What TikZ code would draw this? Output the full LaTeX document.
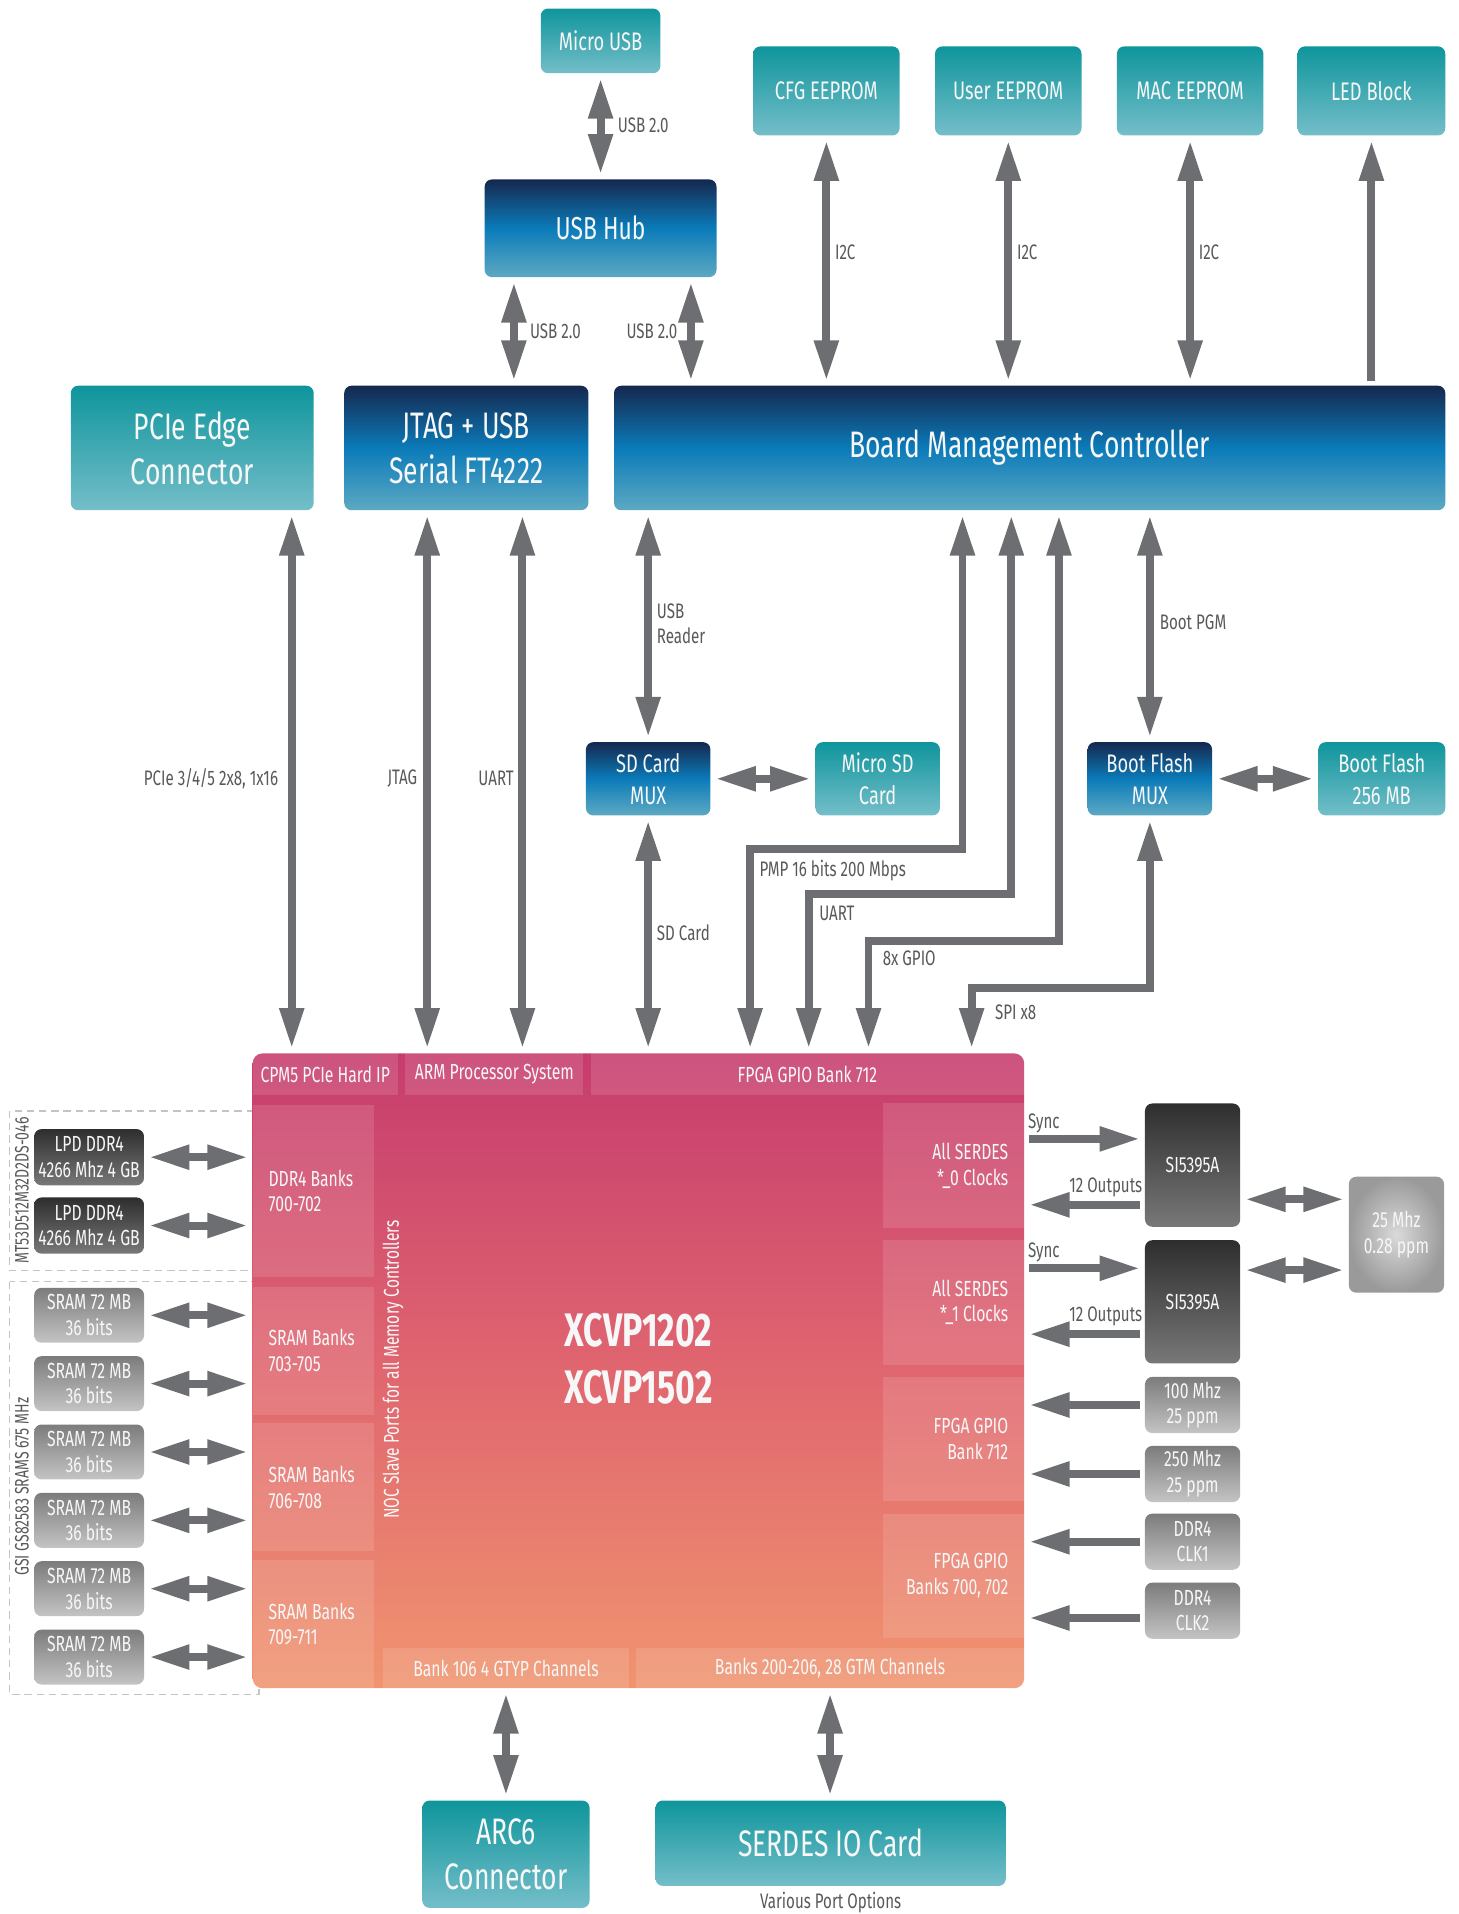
\documentclass[tikz,border=0pt]{standalone}
\usepackage{fontspec}
\setmainfont{Fira Sans}[FakeStretch=0.72]
\usetikzlibrary{arrows.meta}

\definecolor{tealtop}{HTML}{0F959C}
\definecolor{tealbot}{HTML}{74BEC9}
\definecolor{navytop}{HTML}{15284F}
\definecolor{navymid}{HTML}{0B7BB9}
\definecolor{navybot}{HTML}{5DA9C2}
\definecolor{darktop}{HTML}{2E2E2E}
\definecolor{darkbot}{HTML}{787878}
\definecolor{greytop}{HTML}{7C7C7C}
\definecolor{greybot}{HTML}{C4C4C4}
\definecolor{osclight}{HTML}{DADADA}
\definecolor{oscdark}{HTML}{9A9A9A}
\definecolor{fpgatop}{HTML}{C63C6E}
\definecolor{fpgamid}{HTML}{E0666F}
\definecolor{fpgabot}{HTML}{F0946F}
\definecolor{arrowgray}{HTML}{6D6E71}
\definecolor{labgray}{HTML}{58595B}
\definecolor{dashgray}{HTML}{C4C4C4}
\definecolor{boxtext}{HTML}{F7F7F7}

\newcommand{\fbig}{\fontsize{30.2}{37}\selectfont}
\newcommand{\fhub}{\fontsize{26}{30}\selectfont}
\newcommand{\fmid}{\fontsize{20.8}{26}\selectfont}
\newcommand{\fsmall}{\fontsize{17.9}{21}\selectfont}
\newcommand{\flab}{\fontsize{17.2}{21}\selectfont}
\newcommand{\fchip}{\fontsize{38.5}{47}\selectfont\bfseries}

\begin{document}
\begin{tikzpicture}[x=1pt,y=-1pt,>={Triangle[length=33pt,width=19pt]},
    box/.style={rounded corners=6pt,text=boxtext,align=center,inner sep=0pt},
    tealbox/.style={box,top color=tealtop,bottom color=tealbot},
    navybox/.style={box,top color=navytop,bottom color=navybot,middle color=navymid},
    darkbox/.style={box,top color=darktop,bottom color=darkbot},
    greybox/.style={box,top color=greytop,bottom color=greybot},
    blk/.style={fill=white,fill opacity=0.12,text opacity=1,text=boxtext,inner sep=0pt},
    bi/.style={<->,draw=arrowgray,line width=6.5pt,shorten <=4pt,shorten >=4pt},
    uni/.style={->,draw=arrowgray,line width=6.5pt,shorten <=4pt,shorten >=4pt},
    lab/.style={text=labgray,font=\flab,inner sep=0pt}]

    \useasboundingbox (0,0) rectangle (1195,1568);

    % memory groups, behind the chip
    \draw[dashgray,line width=1.2pt,dash pattern=on 6pt off 4pt] (8,910) rectangle (212,1041);
    \draw[dashgray,line width=1.2pt,dash pattern=on 6pt off 4pt] (8,1050) rectangle (212,1388);
    \node[lab,rotate=90,font=\fontsize{16}{18}\selectfont] (ddrname) at (18,975) {MT53D512M32D2DS-046};
    \node[lab,rotate=90,font=\fontsize{16}{18}\selectfont] (sramname) at (18,1218) {GSI GS82583 SRAMS 675 MHz};

    % top row
    \node[tealbox,minimum width=98pt,minimum height=53pt,font=\fmid] (musb) at (492,33.5) {Micro USB};
    \node[navybox,minimum width=190pt,minimum height=80pt,font=\fhub] (hub) at (492,187) {USB Hub};
    \node[tealbox,minimum width=120pt,minimum height=73pt,font=\fmid] (cfg) at (677,74.5) {CFG EEPROM};
    \node[tealbox,minimum width=120pt,minimum height=73pt,font=\fmid] (usr) at (826,74.5) {User EEPROM};
    \node[tealbox,minimum width=120pt,minimum height=73pt,font=\fmid] (mac) at (975,74.5) {MAC EEPROM};
    \node[tealbox,minimum width=121pt,minimum height=73pt,font=\fmid] (led) at (1123.5,74.5) {LED Block};

    \node[tealbox,minimum width=199pt,minimum height=102pt,font=\fbig] (pcie) at (157.5,367) {PCIe Edge\\Connector};
    \node[navybox,minimum width=200pt,minimum height=102pt,font=\fbig] (jtag) at (382,367) {JTAG + USB\\Serial FT4222};
    \node[navybox,minimum width=681pt,minimum height=102pt,font=\fbig] (bmc) at (843.5,367) {Board Management Controller};

    \node[navybox,minimum width=102pt,minimum height=60pt,font=\fmid] (sdmux) at (531,638) {SD Card\\MUX};
    \node[tealbox,minimum width=102pt,minimum height=60pt,font=\fmid] (msd) at (719,638) {Micro SD\\Card};
    \node[navybox,minimum width=102pt,minimum height=60pt,font=\fmid] (bfmux) at (942,638) {Boot Flash\\MUX};
    \node[tealbox,minimum width=104pt,minimum height=60pt,font=\fmid] (bflash) at (1132,638) {Boot Flash\\256 MB};

    % the chip
    \node[rounded corners=8pt,top color=fpgatop,bottom color=fpgabot,middle color=fpgamid,
          minimum width=632pt,minimum height=520pt,inner sep=0pt] (fpga) at (523,1123) {};
    \begin{scope}
        \clip[rounded corners=8pt] (fpga.north west) rectangle (fpga.south east);
        \node[blk,minimum width=119pt,minimum height=34pt,font=\fsmall] (cpm) at (266.5,880) {CPM5 PCIe Hard IP};
        \node[blk,minimum width=146pt,minimum height=34pt,font=\fsmall] (arm) at (405,880) {ARM Processor System};
        \node[blk,minimum width=355pt,minimum height=34pt,font=\fsmall] (gpiotop) at (661.5,880) {FPGA GPIO Bank 712};
        \node[blk,text width=73pt,inner xsep=13pt,align=flush left,minimum height=141pt,font=\fsmall] (ddr) at (256.5,975.5) {DDR4 Banks\\700-702};
        \node[blk,text width=73pt,inner xsep=13pt,align=flush left,minimum height=105pt,font=\fsmall] (sramA) at (256.5,1106.5) {SRAM Banks\\703-705};
        \node[blk,text width=73pt,inner xsep=13pt,align=flush left,minimum height=105pt,font=\fsmall] (sramB) at (256.5,1218.5) {SRAM Banks\\706-708};
        \node[blk,text width=73pt,inner xsep=13pt,align=flush left,minimum height=105pt,font=\fsmall] (sramC) at (256.5,1330.5) {SRAM Banks\\709-711};
        \node[blk,text width=90pt,inner xsep=13pt,align=flush right,minimum height=102pt,font=\fsmall] (serdes0) at (781,955) {All SERDES\\{*}\_0 Clocks};
        \node[blk,text width=90pt,inner xsep=13pt,align=flush right,minimum height=102pt,font=\fsmall] (serdes1) at (781,1067) {All SERDES\\{*}\_1 Clocks};
        \node[blk,text width=90pt,inner xsep=13pt,align=flush right,minimum height=102pt,font=\fsmall] (gpio712) at (781,1179) {FPGA GPIO\\Bank 712};
        \node[blk,text width=90pt,inner xsep=13pt,align=flush right,minimum height=102pt,font=\fsmall] (gpio700) at (781,1291) {FPGA GPIO\\Banks 700, 702};
        \node[blk,minimum width=201pt,minimum height=33pt,font=\fsmall] (gty) at (414.5,1366.5) {Bank 106 4 GTYP Channels};
        \node[blk,minimum width=318pt,minimum height=33pt,font=\fsmall] (gtm) at (680,1366.5) {Banks 200-206, 28 GTM Channels};
    \end{scope}
    \node[text=boxtext,rotate=90,font=\fontsize{17.6}{20}\selectfont,inner sep=0pt] (noc) at (322,1122) {NOC Slave Ports for all Memory Controllers};
    \node[text=boxtext,font=\fchip,align=center,inner sep=0pt] (chip) at (523,1113) {XCVP1202\\XCVP1502};

    % memories
    \foreach \i/\y in {1/948,2/1004}
    {
        \node[darkbox,minimum width=90pt,minimum height=46pt,font=\fsmall] (lpd\i) at (73,\y) {LPD DDR4\\4266 Mhz 4 GB};
        \draw[bi] (lpd\i.east) -- (lpd\i.east -| fpga.west);
    }
    \foreach \i in {1,...,6}
    {
        \node[greybox,minimum width=90pt,minimum height=45pt,font=\fsmall] (sram\i) at (73,{1077.5+56*(\i-1)}) {SRAM 72 MB\\36 bits};
        \draw[bi] (sram\i.east) -- (sram\i.east -| fpga.west);
    }

    % clocks
    \node[darkbox,minimum width=78pt,minimum height=101pt,font=\fsmall] (si1) at (977,954.5) {SI5395A};
    \node[darkbox,minimum width=78pt,minimum height=101pt,font=\fsmall] (si2) at (977,1066.5) {SI5395A};
    \node[box,inner color=osclight,outer color=oscdark,minimum width=78pt,minimum height=95pt,font=\fsmall] (osc) at (1144,1011.5) {25 Mhz\\0.28 ppm};
    \node[greybox,minimum width=78pt,minimum height=46pt,font=\fsmall] (c100) at (977,1151) {100 Mhz\\25 ppm};
    \node[greybox,minimum width=78pt,minimum height=46pt,font=\fsmall] (c250) at (977,1207.5) {250 Mhz\\25 ppm};
    \node[greybox,minimum width=78pt,minimum height=46pt,font=\fsmall] (ck1) at (977,1263) {DDR4\\CLK1};
    \node[greybox,minimum width=78pt,minimum height=46pt,font=\fsmall] (ck2) at (977,1319.5) {DDR4\\CLK2};

    \coordinate (sync1) at ([yshift=21.5pt]si1.west);
    \coordinate (out1) at ([yshift=-32.5pt]si1.west);
    \coordinate (sync2) at ([yshift=27.5pt]si2.west);
    \coordinate (out2) at ([yshift=-26.5pt]si2.west);
    \draw[uni] (sync1 -| fpga.east) -- (sync1);
    \draw[uni] (out1) -- (out1 -| fpga.east);
    \draw[uni] (sync2 -| fpga.east) -- (sync2);
    \draw[uni] (out2) -- (out2 -| fpga.east);
    \node[lab,anchor=west] (synclab1) at (842,920) {Sync};
    \node[lab,anchor=east] (outlab1) at (936,973) {12 Outputs};
    \node[lab,anchor=west] (synclab2) at (842,1026) {Sync};
    \node[lab,anchor=east] (outlab2) at (936,1078) {12 Outputs};

    \coordinate (osc1) at ([yshift=29pt]osc.west);
    \coordinate (osc2) at ([yshift=-29pt]osc.west);
    \draw[bi] (osc1 -| si1.east) -- (osc1);
    \draw[bi] (osc2 -| si2.east) -- (osc2);

    \draw[uni] (c100.west) -- (c100.west -| fpga.east);
    \draw[uni] (c250.west) -- (c250.west -| fpga.east);
    \draw[uni] (ck1.west) -- (ck1.west -| fpga.east);
    \draw[uni] ([yshift=-6pt]ck2.west) -- ([yshift=-6pt]ck2.west -| fpga.east);

    % top links
    \draw[bi] (musb.south) -- (hub.north);
    \node[lab,anchor=west] (usblab1) at (506,103) {USB 2.0};
    \draw[bi] ([xshift=-71pt]hub.south) -- ([xshift=-71pt]hub.south |- jtag.north);
    \node[lab,anchor=west] (usblab2) at (434,271) {USB 2.0};
    \draw[bi] ([xshift=74pt]hub.south) -- ([xshift=74pt]hub.south |- bmc.north);
    \node[lab,anchor=east] (usblab3) at (555,271) {USB 2.0};
    \draw[bi] (cfg.south) -- (cfg.south |- bmc.north);
    \draw[bi] (usr.south) -- (usr.south |- bmc.north);
    \draw[bi] (mac.south) -- (mac.south |- bmc.north);
    \draw[uni] (led.south |- bmc.north) -- (led.south);
    \node[lab,anchor=west] (i2c1) at (684,207) {I2C};
    \node[lab,anchor=west] (i2c2) at (833,207) {I2C};
    \node[lab,anchor=west] (i2c3) at (982,207) {I2C};

    % down to the chip
    \draw[bi] ([xshift=81.5pt]pcie.south) -- ([xshift=81.5pt]pcie.south |- fpga.north);
    \node[lab,anchor=east] (pcielab) at (228,638) {PCIe 3/4/5 2x8, 1x16};
    \draw[bi] ([xshift=-32pt]jtag.south) -- ([xshift=-32pt]jtag.south |- fpga.north);
    \node[lab,anchor=east] (jtaglab) at (342,638) {JTAG};
    \draw[bi] ([xshift=46pt]jtag.south) -- ([xshift=46pt]jtag.south |- fpga.north);
    \node[lab,anchor=east] (uartlab1) at (421,638) {UART};

    \draw[bi] (sdmux.north |- bmc.south) -- (sdmux.north);
    \node[lab,anchor=west,align=left] (readerlab) at (538,511) {USB\\Reader};
    \draw[bi] (sdmux) -- (msd);
    \draw[bi] (sdmux.south) -- (sdmux.south |- fpga.north);
    \node[lab,anchor=west] (sdlab) at (538,764) {SD Card};

    \draw[bi] (bfmux.north |- bmc.south) -- (bfmux.north);
    \node[lab,anchor=west] (pgmlab) at (950,510) {Boot PGM};
    \draw[bi] (bfmux) -- (bflash);

    \draw[bi] ([xshift=-55pt]bmc.south) -- ++(0,277) -| ([xshift=-47pt]gpiotop.north);
    \node[lab,anchor=west] (pmplab) at (622,713) {PMP 16 bits 200 Mbps};
    \draw[bi] ([xshift=-15pt]bmc.south) -- ++(0,314) -| ([xshift=1pt]gpiotop.north);
    \node[lab,anchor=west] (uartlab2) at (671,748) {UART};
    \draw[bi] ([xshift=24pt]bmc.south) -- ++(0,353) -| ([xshift=50pt]gpiotop.north);
    \node[lab,anchor=west] (gpiolab) at (723,785) {8x GPIO};
    \draw[bi] (bfmux.south) -- ++(0,141) -| ([xshift=134.5pt]gpiotop.north);
    \node[lab,anchor=west] (spilab) at (815,829) {SPI x8};

    % bottom
    \node[tealbox,minimum width=137pt,minimum height=88pt,font=\fbig] (arc) at (414.5,1519) {ARC6\\Connector};
    \node[tealbox,minimum width=287pt,minimum height=70pt,font=\fbig] (serdesio) at (680.5,1510) {SERDES IO Card};
    \node[lab] (portlab) at (680.5,1559) {Various Port Options};
    \draw[bi] (gty.south) -- (arc.north);
    \draw[bi] (gtm.south) -- (gtm.south |- serdesio.north);

\end{tikzpicture}
\end{document}
